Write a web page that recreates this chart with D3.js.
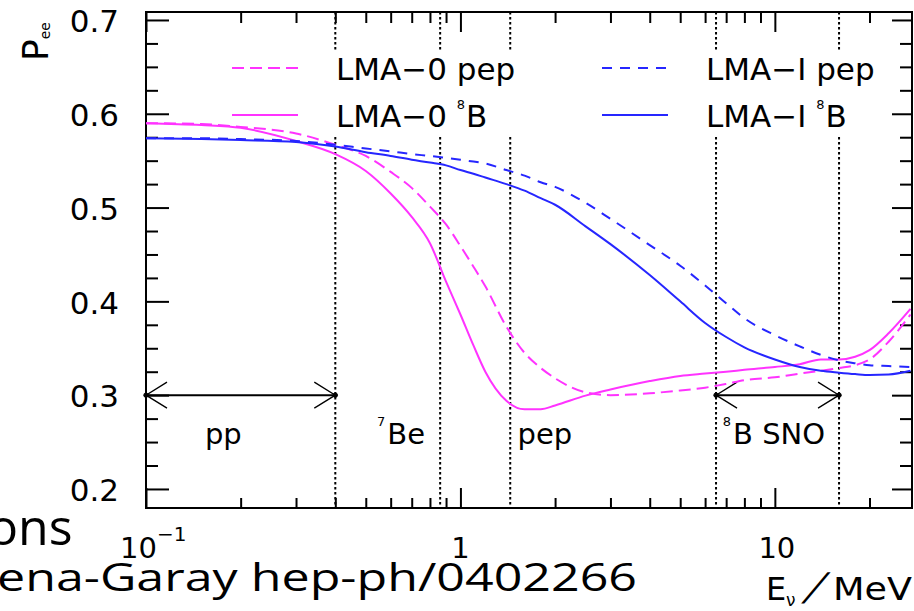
<!DOCTYPE html>
<html>
<head>
<meta charset="utf-8">
<script src="https://cdn.jsdelivr.net/npm/d3@7"></script>
<style>
  html, body { margin: 0; padding: 0; background: #fff; }
  svg { display: block; }
  text { font-family: "DejaVu Sans", sans-serif; fill: #000; }
</style>
</head>
<body>
<div id="chart"></div>
<script>
// Neutrino energy grid (MeV) and survival probabilities
const energy   = [0.1, 0.15, 0.2, 0.3, 0.4, 0.5, 0.6, 0.7, 0.8, 0.9, 1.0, 1.1, 1.2, 1.4, 1.6, 1.8,
                  2.0, 2.5, 3, 4, 5, 6, 7, 8, 10, 12, 14, 16, 18, 20, 23, 27];
const lma0Pep  = [0.590, 0.589, 0.586, 0.579, 0.567, 0.555, 0.538, 0.521, 0.501, 0.482, 0.459, 0.437, 0.416, 0.373, 0.345, 0.329,
                  0.318, 0.303, 0.300, 0.302, 0.305, 0.308, 0.312, 0.316, 0.319, 0.323, 0.326, 0.329, 0.332, 0.338, 0.357, 0.386];
const lma0B8   = [0.590, 0.588, 0.585, 0.571, 0.557, 0.539, 0.515, 0.490, 0.462, 0.421, 0.386, 0.353, 0.325, 0.294, 0.285, 0.285,
                  0.289, 0.2995, 0.306, 0.315, 0.3205, 0.323, 0.325, 0.327, 0.330, 0.333, 0.338, 0.338, 0.341, 0.348, 0.366, 0.392];
const lma1Pep  = [0.574, 0.574, 0.573, 0.571, 0.567, 0.563, 0.560, 0.557, 0.555, 0.553, 0.551, 0.549, 0.547, 0.540, 0.534, 0.527,
                  0.522, 0.505, 0.488, 0.460, 0.438, 0.417, 0.398, 0.382, 0.364, 0.352, 0.343, 0.337, 0.334, 0.332, 0.331, 0.330];
const lma1B8   = [0.574, 0.573, 0.572, 0.570, 0.565, 0.559, 0.555, 0.551, 0.548, 0.545, 0.540, 0.536, 0.532, 0.525, 0.518, 0.510,
                  0.503, 0.480, 0.461, 0.428, 0.400, 0.377, 0.362, 0.351, 0.338, 0.330, 0.326, 0.324, 0.3225, 0.3215, 0.322, 0.326];

// Region boundaries (MeV) and ticks
const regionEdges = [0.4, 0.862, 1.44, 6.5, 16];
const yMajorTicks = [0.2, 0.3, 0.4, 0.5, 0.6, 0.7];
const xMajorTicks = [0.1, 1, 10];

const width = 914, height = 611;
const plot = { left: 146, right: 912, top: 12, bottom: 508 };
const pink = "#ff33ff", blue = "#2626ff";

const svg = d3.select("#chart")
  .append("svg")
    .attr("width", width)
    .attr("height", height)
    .attr("viewBox", `0 0 ${width} ${height}`);

/****************************/
/*    Declare the scales    */
/****************************/
const xScale = d3.scaleLog()
  .domain([0.1, 27.3])
  .range([plot.left, plot.right]);

const yScale = d3.scaleLinear()
  .domain([0.1797, 0.7085])
  .range([plot.bottom, plot.top]);

const xMinorTicks = xScale.ticks().filter(d => !xMajorTicks.some(m => Math.abs(m - d) < 1e-9));
const yMinorTicks = d3.range(0.2, 0.7001, 0.025).filter(d => !yMajorTicks.some(m => Math.abs(m - d) < 1e-6));

/****************************/
/*   Slide text behind plot */
/****************************/
svg.append("text")
  .text("ons")
  .attr("x", -12)
  .attr("y", 545)
  .style("font-family", "'Open Sans', sans-serif")
  .style("font-size", "50px");

svg.append("text")
  .text("ena-Garay hep-ph/0402266")
  .attr("x", -3)
  .attr("y", 591)
  .attr("textLength", 640)
  .attr("lengthAdjust", "spacingAndGlyphs")
  .style("font-family", "'Open Sans', sans-serif")
  .style("font-size", "38px");

/****************************/
/*     Region separators    */
/****************************/
svg.append("g")
  .selectAll("line")
  .data(regionEdges)
  .join("line")
    .attr("x1", d => xScale(d))
    .attr("x2", d => xScale(d))
    .attr("y1", plot.top)
    .attr("y2", plot.bottom)
    .attr("stroke", "#000")
    .attr("stroke-width", 2)
    .attr("stroke-dasharray", "2.5,2.5");

/***************************/
/*     Append the axes     */
/***************************/
const styleAxis = g => {
  g.select(".domain").remove();
  g.selectAll(".tick line").attr("stroke", "#000").attr("stroke-width", 2);
};

svg.append("g")
  .attr("transform", `translate(0, ${plot.bottom})`)
  .call(d3.axisBottom(xScale).tickValues(xMajorTicks).tickSize(-20).tickFormat(""))
  .call(styleAxis);
svg.append("g")
  .attr("transform", `translate(0, ${plot.bottom})`)
  .call(d3.axisBottom(xScale).tickValues(xMinorTicks).tickSize(-10).tickFormat(""))
  .call(styleAxis);
svg.append("g")
  .attr("transform", `translate(0, ${plot.top})`)
  .call(d3.axisTop(xScale).tickValues(xMajorTicks).tickSize(-20).tickFormat(""))
  .call(styleAxis);
svg.append("g")
  .attr("transform", `translate(0, ${plot.top})`)
  .call(d3.axisTop(xScale).tickValues(xMinorTicks).tickSize(-11).tickFormat(""))
  .call(styleAxis);

const leftAxis = svg.append("g")
  .attr("transform", `translate(${plot.left}, 0)`)
  .call(d3.axisLeft(yScale).tickValues(yMajorTicks).tickSize(-23).tickPadding(27).tickFormat(d3.format(".1f")))
  .call(styleAxis);
leftAxis.selectAll("text")
  .attr("dy", "0.38em")
  .style("font-size", "31px")
  .style("font-family", "'DejaVu Sans', sans-serif");
svg.append("g")
  .attr("transform", `translate(${plot.left}, 0)`)
  .call(d3.axisLeft(yScale).tickValues(yMinorTicks).tickSize(-12).tickFormat(""))
  .call(styleAxis);
svg.append("g")
  .attr("transform", `translate(${plot.right}, 0)`)
  .call(d3.axisRight(yScale).tickValues(yMajorTicks).tickSize(-20).tickFormat(""))
  .call(styleAxis);
svg.append("g")
  .attr("transform", `translate(${plot.right}, 0)`)
  .call(d3.axisRight(yScale).tickValues(yMinorTicks).tickSize(-12).tickFormat(""))
  .call(styleAxis);

// X tick labels (powers of ten)
const xLabels = svg.append("g");
xLabels.append("text")
  .attr("x", xScale(0.1) - 26)
  .attr("y", 558)
  .style("font-size", "29px")
  .text("10")
  .append("tspan")
    .attr("dy", -17)
    .style("font-size", "20px")
    .text("\u22121");
xLabels.append("text")
  .attr("x", xScale(1))
  .attr("y", 558)
  .attr("text-anchor", "middle")
  .style("font-size", "29px")
  .text("1");
xLabels.append("text")
  .attr("x", xScale(10) + 2)
  .attr("y", 558)
  .attr("text-anchor", "middle")
  .style("font-size", "29px")
  .text("10");

// Frame
svg.append("rect")
  .attr("x", plot.left)
  .attr("y", plot.top)
  .attr("width", plot.right - plot.left)
  .attr("height", plot.bottom - plot.top)
  .attr("fill", "none")
  .attr("stroke", "#000")
  .attr("stroke-width", 2);

// Axis titles
svg.append("text")
  .attr("transform", "translate(48, 61) rotate(-90)")
  .style("font-size", "36px")
  .text("P")
  .append("tspan")
    .attr("dy", 2)
    .style("font-size", "14px")
    .text("ee");

const eTitle = svg.append("g");
eTitle.append("text").attr("x", 766).attr("y", 600).style("font-size", "32px").text("E");
eTitle.append("text").attr("x", 786).attr("y", 606).style("font-size", "17px").text("\u03bd");
eTitle.append("text").attr("transform", "translate(803, 600) skewX(-28)").style("font-size", "38px").text("/");
eTitle.append("text").attr("x", 833).attr("y", 600).style("font-size", "32px")
  .attr("textLength", 79).attr("lengthAdjust", "spacingAndGlyphs").text("MeV");

/****************************/
/*     Legend (white box)   */
/****************************/
svg.append("rect")
  .attr("x", 220)
  .attr("y", 50)
  .attr("width", 672)
  .attr("height", 85)
  .attr("fill", "#fff");

const legendItems = [
  { x: 232, y: 68,  color: pink, dash: "12,6", label: "LMA\u22120 pep" },
  { x: 232, y: 115, color: pink, dash: null,   label: "LMA\u22120 ", sup: "8", tail: "B" },
  { x: 602, y: 68,  color: blue, dash: "10,8", label: "LMA\u2212I pep" },
  { x: 602, y: 115, color: blue, dash: null,   label: "LMA\u2212I ", sup: "8", tail: "B" }
];
const legend = svg.append("g")
  .selectAll("g")
  .data(legendItems)
  .join("g");
legend.append("line")
  .attr("x1", d => d.x)
  .attr("x2", d => d.x + 66)
  .attr("y1", d => d.y)
  .attr("y2", d => d.y)
  .attr("stroke", d => d.color)
  .attr("stroke-width", 2)
  .attr("stroke-dasharray", d => d.dash);
const legendText = legend.append("text")
  .attr("x", d => d.x + 104)
  .attr("y", d => d.y + 12)
  .style("font-size", "31px")
  .text(d => d.label);
legendText.filter(d => d.sup)
  .append("tspan")
    .attr("dy", -18)
    .style("font-size", "13px")
    .text(d => d.sup);
legendText.filter(d => d.sup)
  .append("tspan")
    .attr("dy", 18)
    .attr("dx", 1)
    .text(d => d.tail);

/****************************/
/*     Energy ranges        */
/****************************/
const arrows = [[0.1, 0.4], [6.5, 16]];
const arrowY = yScale(0.3);
const arrowG = svg.append("g").attr("stroke", "#000");
arrows.forEach(([a, b]) => {
  const x1 = xScale(a), x2 = xScale(b);
  arrowG.append("line").attr("x1", x1).attr("x2", x2).attr("y1", arrowY).attr("y2", arrowY).attr("stroke-width", 2);
  arrowG.append("path")
    .attr("d", `M${x1 + 21},${arrowY - 13} L${x1},${arrowY} L${x1 + 21},${arrowY + 13}`)
    .attr("fill", "none").attr("stroke-width", 1.3);
  arrowG.append("path")
    .attr("d", `M${x2 - 21},${arrowY - 13} L${x2},${arrowY} L${x2 - 21},${arrowY + 13}`)
    .attr("fill", "none").attr("stroke-width", 1.3);
  [x1, x2].forEach(x => arrowG.append("circle").attr("cx", x).attr("cy", arrowY).attr("r", 2.2).attr("fill", "#000"));
});

const regionLabels = [
  { e: 0.154, sup: "",  text: "pp" },
  { e: 0.543, sup: "7", text: "Be" },
  { e: 1.52,  sup: "",  text: "pep" },
  { e: 6.83,  sup: "8", text: "B SNO" }
];
const rl = svg.append("g")
  .selectAll("text")
  .data(regionLabels)
  .join("text")
    .attr("x", d => xScale(d.e))
    .attr("y", 444)
    .style("font-size", "29px");
rl.append("tspan")
  .attr("dy", d => d.sup ? -18 : 0)
  .style("font-size", "13px")
  .text(d => d.sup);
rl.append("tspan")
  .attr("dy", d => d.sup ? 18 : 0)
  .attr("dx", d => d.sup ? 2 : 0)
  .text(d => d.text);

/******************************/
/*     Append the curves      */
/******************************/
const series = [
  { values: lma0Pep, color: pink, dash: "12,6" },
  { values: lma0B8,  color: pink, dash: null },
  { values: lma1Pep, color: blue, dash: "10,8" },
  { values: lma1B8,  color: blue, dash: null }
];
const line = d3.line()
  .x(d => xScale(d[0]))
  .y(d => yScale(d[1]))
  .curve(d3.curveMonotoneX);

svg.append("g")
  .selectAll("path")
  .data(series)
  .join("path")
    .attr("d", d => line(energy.map((e, i) => [e, d.values[i]])))
    .attr("fill", "none")
    .attr("stroke", d => d.color)
    .attr("stroke-width", 2)
    .attr("stroke-dasharray", d => d.dash);
</script>
</body>
</html>
